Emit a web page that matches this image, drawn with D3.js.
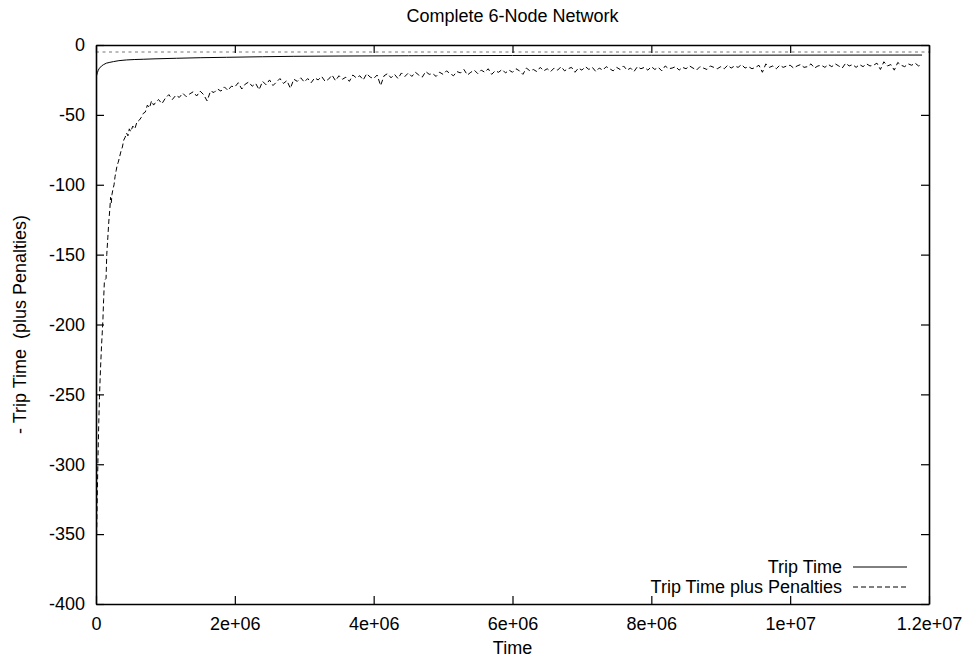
<!DOCTYPE html>
<html>
<head>
<meta charset="utf-8">
<script src="https://cdn.jsdelivr.net/npm/d3@7"></script>
<style>
  html, body { margin: 0; padding: 0; background: #fff; }
  svg { display: block; font-family: "Liberation Sans", Arial, Helvetica, sans-serif; }
</style>
</head>
<body>
<svg id="chart" width="964" height="659"></svg>
<script>
// ---- Axis ticks -------------------------------------------------------
const xTickValues = [0, 2e6, 4e6, 6e6, 8e6, 1e7, 1.2e7];
const xTickLabels = ["0", "2e+06", "4e+06", "6e+06", "8e+06", "1e+07", "1.2e+07"];
const yTickValues = [0, -50, -100, -150, -200, -250, -300, -350, -400];

// ---- Series: Trip Time (smooth running average) -----------------------
const tripTimes = [0, 1e4, 2e4, 3.3e4, 5e4, 8e4, 1.1e5, 1.5e5, 2e5, 2.5e5, 3.3e5, 4.4e5,
  5.5e5, 6.8e5, 8.5e5, 1.16e6, 1.5e6, 1.88e6, 2.4e6, 2.84e6, 3.5e6, 4.5e6, 6e6, 8e6, 1e7, 1.19e7];
const tripValues = [-23.8, -21.5, -19.8, -18, -16.6, -15, -14, -13, -12.4, -11.9, -11.2, -10.7,
  -10.4, -10.2, -9.9, -9.5, -9.1, -8.8, -8.4, -8.1, -7.9, -7.7, -7.5, -7.35, -7.25, -7.2];

// ---- Series: Trip Time plus Penalties ---------------------------------
// early ramp, irregular sample times
const penaltyRampTimes = [0, 1e4, 2e4, 3e4, 4e4, 5e4, 6e4, 7e4, 8e4, 9e4, 1e5, 1.1e5, 1.2e5,
  1.3e5, 1.45e5, 1.55e5, 1.7e5, 1.85e5, 2e5, 2.1e5, 2.2e5, 2.3e5, 2.45e5, 2.6e5, 2.75e5, 2.9e5,
  3.05e5, 3.2e5, 3.4e5, 3.6e5, 3.8e5, 4e5, 4.2e5, 4.4e5, 4.6e5, 4.8e5, 5e5, 5.3e5, 5.6e5, 5.9e5,
  6.2e5, 6.5e5, 6.8e5, 7.1e5, 7.4e5, 7.7e5, 8e5, 8.3e5, 8.6e5, 9e5, 9.5e5];
const penaltyRampValues = [-368, -348, -318, -292, -270, -252, -238, -226, -215, -206, -196, -182, -170,
  -168, -167, -150, -138, -126, -117, -109, -113, -107, -103, -100, -94, -90,
  -86, -84, -80, -76, -73, -68, -66, -63, -65, -60, -62, -58, -60, -55,
  -54, -52, -49, -48, -43, -45, -40, -43, -41, -39, -42];
// regular samples afterwards
const penaltyLateStart = 1e6;
const penaltyLateStep = 5e4;
const penaltyLateValues = [
  -38, -35.5, -39, -36, -37.5, -34.5, -37, -35, -33.5, -36.5,
  -33, -35.5, -40, -33, -34, -31.5, -33, -30, -32.5, -29.5,
  -30, -27, -31.5, -28, -26.5, -29.5, -27.5, -32, -26, -28.5,
  -25, -29, -26.5, -24, -27.5, -25.5, -31, -24.5, -26, -23.5,
  -26.5, -24, -27, -23.5, -25, -22.5, -26, -24.5, -21.5, -25.5,
  -22, -24.5, -23, -26, -21.5, -23.5, -22, -25, -20.5, -23,
  -24, -21.5, -29, -22, -20.5, -23.5, -21, -24, -20, -22.5,
  -20, -22.5, -19.5, -21.5, -23, -19, -21, -20.5, -22.5, -19.5,
  -21, -18.5, -20.5, -22, -19, -20, -17.5, -21.5, -19.5, -18,
  -20.5, -18, -19.5, -17, -21, -18.5, -19.5, -17.5, -20, -18,
  -19.5, -17, -18.5, -21, -16.5, -18.5, -17.5, -19, -16, -18.5,
  -17, -19, -16.5, -18, -15.5, -18.5, -17, -16, -19.5, -16.5,
  -18, -15.5, -17.5, -16, -19, -16.5, -18, -15.5, -17, -18.5,
  -16, -17.5, -15, -18, -16.5, -19, -15.5, -17, -16, -18,
  -15.5, -17.5, -16, -18.5, -15, -17, -16.5, -15.5, -18, -16,
  -17, -15, -16.5, -18, -15.5, -16.5, -17.5, -15, -16, -17,
  -15.5, -17, -14.5, -16.5, -15, -16, -14, -16.5, -15.5, -17,
  -16, -14.5, -19.5, -13.5, -16, -15, -17, -14.5, -16, -15,
  -14.5, -16.5, -15, -14, -16, -15.5, -13.5, -16.5, -15, -14.5,
  -16, -14, -15.5, -13.5, -15, -16.5, -13, -15, -14, -16,
  -14, -15.5, -13.5, -15, -14.5, -13, -17.5, -12, -15, -14,
  -18, -12.5, -14.5, -15.5, -13.5, -14.5, -13, -15, -14
];

// constant level drawn as a light dashed line near the top
const boundLevel = -5;

const legendLabels = ["Trip Time", "Trip Time plus Penalties"];

// ---- Layout -------------------------------------------------------------
const W = 964, H = 659;
const plot = { left: 96, right: 929, top: 45, bottom: 604 };
const FONT = 18;

const svg = d3.select("#chart");
svg.append("rect").attr("width", W).attr("height", H).attr("fill", "#fff");

const x = d3.scaleLinear().domain([0, 1.2e7]).range([plot.left, plot.right]);
const y = d3.scaleLinear().domain([-400, 0]).range([plot.bottom, plot.top]);

// ---- Data assembly ------------------------------------------------------
const tripSeries = tripTimes.map((t, i) => [t, tripValues[i]]);
const penaltySeries = penaltyRampTimes.map((t, i) => [t, penaltyRampValues[i]])
  .concat(penaltyLateValues.map((v, i) => [penaltyLateStart + i * penaltyLateStep, v]));

// ---- Curves -------------------------------------------------------------
svg.append("clipPath").attr("id", "plotClip")
  .append("rect")
  .attr("x", plot.left).attr("y", plot.top)
  .attr("width", plot.right - plot.left).attr("height", plot.bottom - plot.top);

const curves = svg.append("g").attr("clip-path", "url(#plotClip)");
const line = d3.line().x(d => x(d[0])).y(d => y(d[1]));

curves.append("path")
  .datum(x.domain().map(t => [t, boundLevel]))
  .attr("d", line)
  .attr("fill", "none")
  .attr("stroke", "#777")
  .attr("stroke-width", 1.2)
  .attr("stroke-dasharray", "3,3.5");

curves.append("path")
  .datum(penaltySeries)
  .attr("d", line)
  .attr("fill", "none")
  .attr("stroke", "#000")
  .attr("stroke-width", 1)
  .attr("stroke-dasharray", "5,3");

curves.append("path")
  .datum(tripSeries)
  .attr("d", line)
  .attr("fill", "none")
  .attr("stroke", "#000")
  .attr("stroke-width", 1);

// ---- Axes (ticks point inward, mirrored on top/right) ------------------
const TICK = 8;
function styleAxis(g) {
  g.selectAll("path.domain").attr("stroke", "#000").attr("stroke-width", 1.6);
  g.selectAll(".tick line").attr("stroke", "#000").attr("stroke-width", 1.2);
  g.selectAll("text").attr("fill", "#000").style("font-size", FONT + "px")
    .style("font-family", '"Liberation Sans", Arial, Helvetica, sans-serif');
}

svg.append("g")
  .attr("transform", `translate(0,${plot.bottom})`)
  .call(d3.axisBottom(x).tickValues(xTickValues)
    .tickFormat((d, i) => xTickLabels[i]).tickSizeInner(-TICK).tickSizeOuter(0).tickPadding(13))
  .call(styleAxis);

svg.append("g")
  .attr("transform", `translate(0,${plot.top})`)
  .call(d3.axisTop(x).tickValues(xTickValues).tickFormat("").tickSizeInner(-TICK).tickSizeOuter(0))
  .call(styleAxis);

svg.append("g")
  .attr("transform", `translate(${plot.left},0)`)
  .call(d3.axisLeft(y).tickValues(yTickValues).tickFormat(d => String(d))
    .tickSizeInner(-TICK).tickSizeOuter(0).tickPadding(11))
  .call(styleAxis);

svg.append("g")
  .attr("transform", `translate(${plot.right},0)`)
  .call(d3.axisRight(y).tickValues(yTickValues).tickFormat("").tickSizeInner(-TICK).tickSizeOuter(0))
  .call(styleAxis);

// ---- Titles -------------------------------------------------------------
const textFont = '"Liberation Sans", Arial, Helvetica, sans-serif';
svg.append("text")
  .attr("x", (plot.left + plot.right) / 2).attr("y", 22)
  .attr("text-anchor", "middle")
  .style("font-size", FONT + "px").style("font-family", textFont)
  .text("Complete 6-Node Network");

svg.append("text")
  .attr("x", (plot.left + plot.right) / 2).attr("y", 654)
  .attr("text-anchor", "middle")
  .style("font-size", FONT + "px").style("font-family", textFont)
  .text("Time");

svg.append("text")
  .attr("transform", `translate(26,${(plot.top + plot.bottom) / 2}) rotate(-90)`)
  .attr("text-anchor", "middle")
  .style("font-size", FONT + "px").style("font-family", textFont)
  .style("white-space", "pre")
  .text("- Trip Time  (plus Penalties)");

// ---- Legend -------------------------------------------------------------
const legend = svg.append("g");
const legendDash = [null, "5,3"];
legendLabels.forEach((label, i) => {
  const baseY = 573 + i * 20;
  legend.append("text")
    .attr("x", 842).attr("y", baseY)
    .attr("text-anchor", "end")
    .style("font-size", FONT + "px").style("font-family", textFont)
    .text(label);
  legend.append("line")
    .attr("x1", 853).attr("x2", 907)
    .attr("y1", baseY - 6).attr("y2", baseY - 6)
    .attr("stroke", "#000").attr("stroke-width", 1)
    .attr("stroke-dasharray", legendDash[i]);
});
</script>
</body>
</html>
